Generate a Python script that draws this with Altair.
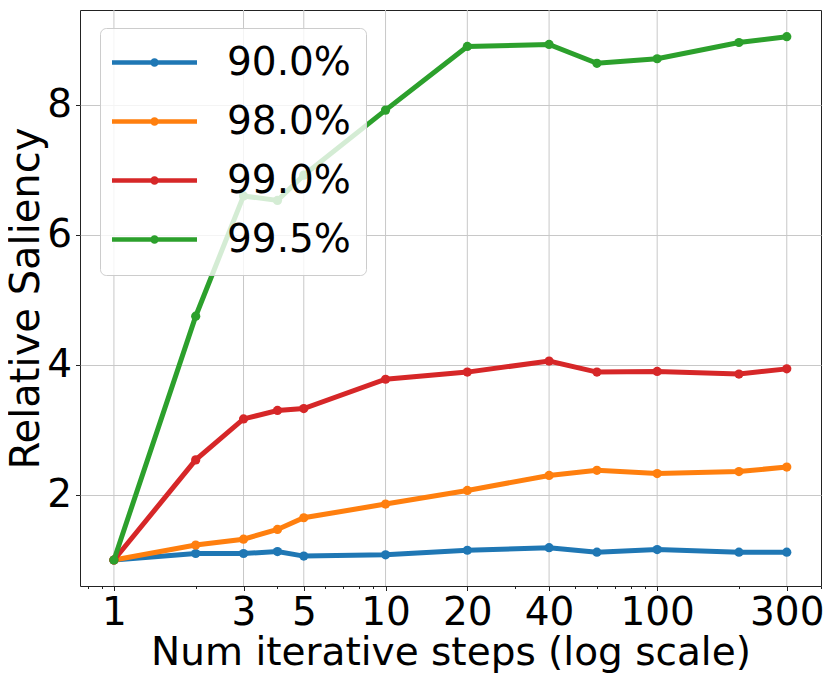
import altair as alt
import pandas as pd

steps = [1, 2, 3, 4, 5, 10, 20, 40, 60, 100, 200, 300]
series_names = ["90.0%", "98.0%", "99.0%", "99.5%"]
s90 = [1.0, 1.10, 1.10, 1.13, 1.06, 1.08, 1.15, 1.19, 1.12, 1.16, 1.12, 1.12]
s98 = [1.0, 1.23, 1.32, 1.47, 1.65, 1.86, 2.07, 2.30, 2.38, 2.33, 2.36, 2.43]
s99 = [1.0, 2.54, 3.17, 3.30, 3.33, 3.78, 3.89, 4.06, 3.89, 3.90, 3.86, 3.94]
s995 = [1.0, 4.75, 6.60, 6.53, 6.92, 7.92, 8.90, 8.93, 8.64, 8.71, 8.96, 9.05]
colors = ["#1f77b4", "#ff7f0e", "#d62728", "#2ca02c"]

major_ticks = [1, 3, 5, 10, 20, 40, 100, 300]
minor_ticks = [0.8, 0.9, 2, 4, 6, 7, 8, 9, 30, 50, 60, 70, 80, 90, 200, 400]
y_ticks = [2, 4, 6, 8]

rows = []
for name, vals in zip(series_names, [s90, s98, s99, s995]):
    for x, v in zip(steps, vals):
        rows.append({"steps": x, "saliency": v, "series": name})
df = pd.DataFrame(rows)
grid_df = pd.DataFrame({"steps": major_ticks})

FONT = "DejaVu Sans"
major_list = "[" + ",".join(str(v) for v in major_ticks) + "]"
is_major = f"indexof({major_list}, datum.value) >= 0"

x_axis = alt.Axis(
    title="Num iterative steps (log scale)",
    values=sorted(major_ticks + minor_ticks),
    labelExpr=f"{is_major} ? '' + datum.value : ''",
    grid=False,
    tickSize={"condition": {"test": is_major, "value": 4.5}, "value": 2.5},
    tickColor="#222222",
    domain=False,
    labelFont=FONT,
    labelFontSize=39,
    labelColor="black",
    labelPadding=3,
    labelFlush=False,
    labelOverlap=False,
    titleFont=FONT,
    titleFontSize=39,
    titleFontWeight="normal",
    titleColor="black",
    titleBaseline="alphabetic",
    titleY=78,
)

y_axis = alt.Axis(
    title="Relative Saliency",
    values=y_ticks,
    grid=True,
    gridColor="#c8c8c8",
    gridWidth=1,
    tickSize=4.5,
    tickColor="#222222",
    domain=False,
    labelFont=FONT,
    labelFontSize=39,
    labelColor="black",
    labelPadding=4,
    labelBaseline="middle",
    titleFont=FONT,
    titleFontSize=40,
    titleFontWeight="normal",
    titleColor="black",
    titleAngle=270,
    titleBaseline="alphabetic",
    titleAlign="center",
    titleX=-42,
    titleY=288,
)

legend_path = "M-8.5,0L8.5,0M-0.4,0A0.4,0.4,0,1,1,0.4,0A0.4,0.4,0,1,1,-0.4,0"
legend = alt.Legend(
    title=None,
    orient="none",
    legendX=20,
    legendY=18,
    symbolType=legend_path,
    symbolSize=100,
    symbolStrokeWidth=4.5,
    symbolOffset=20,
    labelOffset=53,
    labelFont=FONT,
    labelFontSize=39,
    labelColor="black",
    rowPadding=19,
    padding=15,
    fillColor="rgba(255,255,255,0.8)",
    strokeColor="#cccccc",
    cornerRadius=6,
    labelLimit=400,
)

x_scale = alt.Scale(type="log", domain=[0.75, 401], nice=False)
x_enc = alt.X("steps:Q", scale=x_scale, axis=x_axis)
y_enc = alt.Y("saliency:Q", scale=alt.Scale(domain=[0.6, 9.46], nice=False, zero=False), axis=y_axis)
color_enc = alt.Color("series:N", scale=alt.Scale(domain=series_names, range=colors), legend=legend)

grid = alt.Chart(grid_df).mark_rule(color="#c8c8c8", strokeWidth=1).encode(x=x_enc)

layers = [grid]
for name in series_names:
    base = alt.Chart(df).transform_filter(alt.datum.series == name)
    layers.append(base.mark_line(strokeWidth=5).encode(x=x_enc, y=y_enc, color=color_enc))
    layers.append(base.mark_point(filled=True, size=85, opacity=1).encode(x=x_enc, y=y_enc, color=color_enc))

chart = alt.layer(*layers).properties(
    width=741,
    height=576,
    padding={"left": 72, "top": 2, "right": 2, "bottom": 90},
    autosize=alt.AutoSizeParams(type="none"),
    background="white",
).configure_view(stroke="#222222", strokeWidth=1)

chart.save("out.html", embed_options={"renderer": "svg", "actions": False})
